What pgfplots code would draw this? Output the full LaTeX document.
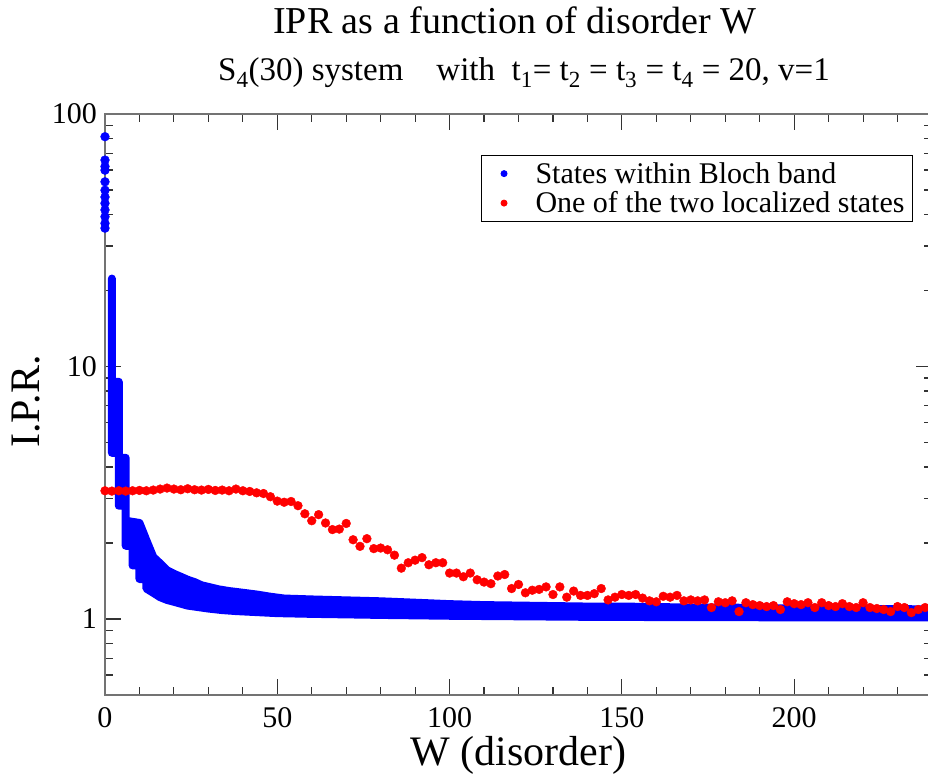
\documentclass[border=0pt]{standalone}
\usepackage{fontspec}
\setmainfont{Liberation Serif}
\usepackage{pgfplots}
\pgfplotsset{compat=1.18}
\definecolor{pblue}{RGB}{0,0,255}
\definecolor{pred}{RGB}{255,0,0}
\begin{document}
\begin{tikzpicture}
\begin{axis}[
  scale only axis,
  width=827pt, height=581pt,
  at={(0pt,0pt)}, anchor=south west,
  clip=false,
  xmin=0, xmax=240,
  ymode=log, ymin=0.5, ymax=100,
  xtick={0,50,100,150,200},
  minor xtick={10,20,30,40,60,70,80,90,110,120,130,140,160,170,180,190,210,220,230},
  ytick={1,10,100},
  yticklabels={1,10,100},
  minor ytick={0.5,0.6,0.7,0.8,0.9,2,3,4,5,6,7,8,9,20,30,40,50,60,70,80,90},
  tick align=inside,
  major tick length=16pt,
  minor tick length=8pt,
  every tick/.style={black!80, line width=1.1pt},
  axis line style={black!55, line width=1.3pt},
  tick label style={font=\fontsize{30}{30}\selectfont},
  /pgf/number format/assume math mode=true,
  xticklabel style={inner sep=0pt, yshift=-12pt},
  yticklabel style={inner sep=0pt, xshift=-8pt},
  xlabel={W (disorder)},
  ylabel={I.P.R.},
  label style={font=\fontsize{42}{42}\selectfont},
  xlabel style={at={(axis description cs:0.5,0)}, anchor=base, yshift=-70pt},
  ylabel style={at={(axis description cs:-0.0798,0.505)}, anchor=base},
  legend cell align=left,
  legend image code/.code={\path (-14pt,0pt) (31pt,0pt); \path[#1] plot coordinates {(0pt,0pt)};},
  legend style={at={(0.977,0.9294)}, anchor=north east, draw=black, line width=0.9pt,
    font=\fontsize{30}{30}\selectfont, inner xsep=8pt, inner ysep=7pt, row sep=7pt,
    nodes={inner sep=0pt}},
]
% blue band of states within the Bloch band (outline of the dense scatter)
\addplot[forget plot, fill=pblue, draw=pblue, line width=8pt, line join=round] coordinates {
(2,22.3) (2,8.7) (4,8.7) (4,4.35) (6,4.35) (6,2.45) (10,2.4) (12,2.05) (14,1.76) (16,1.66)
(18,1.56) (20,1.51) (22,1.47) (24,1.43) (26,1.40) (28,1.36) (30,1.34) (33,1.31) (36,1.29)
(40,1.27) (44,1.25) (48,1.225) (52,1.205) (60,1.195) (70,1.185) (80,1.175) (90,1.16)
(100,1.145) (110,1.135) (120,1.13) (130,1.125) (140,1.12) (150,1.12) (160,1.115) (170,1.11)
(180,1.11) (190,1.105) (200,1.10) (210,1.10) (220,1.095) (230,1.095) (240,1.09)
(240,1.015) (220,1.015) (200,1.015) (180,1.017) (160,1.018) (140,1.02) (120,1.025) (100,1.03)
(80,1.038) (60,1.048) (50,1.055) (44,1.065) (38,1.075) (34,1.085) (30,1.10) (28,1.11)
(26,1.12) (24,1.13) (22,1.15) (20,1.17) (18,1.19) (16,1.22) (14,1.27) (12,1.32) (12,1.44)
(10,1.44) (10,1.63) (8,1.63) (8,1.95) (6,1.95) (6,2.81) (4,2.81) (4,4.55) (2,4.55)
} -- cycle;
% isolated blue points at W = 0
\addplot[forget plot, only marks, mark=*, mark size=4.4pt, pblue] coordinates {
(0,81.3) (0,65.7) (0,62.0) (0,59.9) (0,53.9) (0,49.9) (0,46.9) (0,44.3) (0,41.7) (0,39.2) (0,36.9) (0,35.3)
};
% red: one of the two localized states
\addplot[forget plot, only marks, mark=*, mark size=4.4pt, pred] coordinates {
(0,3.22) (2,3.21) (4,3.22) (6,3.21) (8,3.22) (10,3.23) (12,3.22) (14,3.24) (16,3.27) (18,3.30)
(20,3.27) (22,3.25) (24,3.28) (26,3.25) (28,3.24) (30,3.26) (32,3.23) (34,3.24) (36,3.22) (38,3.27)
(40,3.22) (42,3.20) (44,3.16) (46,3.14) (48,3.05) (50,2.93) (52,2.90) (54,2.92) (56,2.81) (58,2.61)
(60,2.45) (62,2.59) (64,2.40) (66,2.26) (68,2.27) (70,2.39) (72,2.06) (74,1.94) (76,2.08) (78,1.90)
(80,1.91) (82,1.88) (84,1.79) (86,1.59) (88,1.67) (90,1.71) (92,1.75) (94,1.64) (96,1.67) (98,1.67)
(100,1.52) (102,1.52) (104,1.47) (106,1.52) (108,1.43) (110,1.40) (112,1.38) (114,1.48) (116,1.50) (118,1.32)
(120,1.37) (122,1.27) (124,1.30) (126,1.31) (128,1.34) (130,1.25) (132,1.34) (134,1.22) (136,1.29) (138,1.24)
(140,1.24) (142,1.26) (144,1.32) (146,1.19) (148,1.22) (150,1.25) (152,1.24) (154,1.25) (156,1.21) (158,1.18)
(160,1.17) (162,1.23) (164,1.22) (166,1.24) (168,1.18) (170,1.19) (172,1.18) (174,1.19) (176,1.11) (178,1.17)
(180,1.16) (182,1.18) (184,1.07) (186,1.16) (188,1.14) (190,1.13) (192,1.12) (194,1.13) (196,1.09) (198,1.17)
(200,1.15) (202,1.14) (204,1.16) (206,1.11) (208,1.16) (210,1.13) (212,1.12) (214,1.15) (216,1.12) (218,1.11)
(220,1.16) (222,1.11) (224,1.10) (226,1.09) (228,1.07) (230,1.12) (232,1.11) (234,1.06) (236,1.09) (238,1.11)
(240,1.10)
};
\addlegendimage{pblue, mark=*, mark size=3pt}
\addlegendentry{States within Bloch band}
\addlegendimage{pred, mark=*, mark size=3pt}
\addlegendentry{One of the two localized states}
\end{axis}
\node[anchor=base, font=\fontsize{38}{38}\selectfont] at (410pt,661pt) {IPR as a function of disorder W};
\node[anchor=base, font=\fontsize{33}{33}\selectfont] at (419pt,614pt) {S\textsubscript{4}(30) system\quad with\ \ t\textsubscript{1}= t\textsubscript{2} = t\textsubscript{3} = t\textsubscript{4} = 20, v=1};
\pgfresetboundingbox
\useasboundingbox (-105pt,-81pt) rectangle (823pt,695pt);
\end{tikzpicture}
\end{document}
